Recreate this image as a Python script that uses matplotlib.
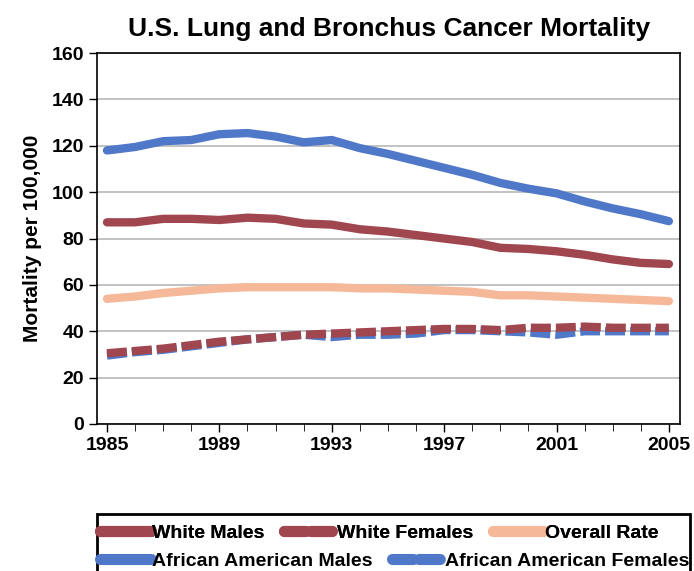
import numpy as np
import matplotlib.pyplot as plt
from matplotlib.lines import Line2D
from matplotlib.patches import Rectangle

plt.rcParams['font.family'] = ['Liberation Sans Narrow', 'Liberation Sans', 'DejaVu Sans']

years = np.arange(1985, 2006)

aa_males = [118, 119.5, 122, 122.5, 125, 125.5, 124, 121.5, 122.5, 119, 116.5,
            113.5, 110.5, 107.5, 104, 101.5, 99.5, 96, 93, 90.5, 87.5]
white_males = [87, 87, 88.5, 88.5, 88, 89, 88.5, 86.5, 86, 84, 83,
               81.5, 80, 78.5, 76, 75.5, 74.5, 73, 71, 69.5, 69]
overall = [54, 55, 56.5, 57.5, 58.5, 59, 59, 59, 59, 58.5, 58.5,
           58, 57.5, 57, 55.5, 55.5, 55, 54.5, 54, 53.5, 53]
white_females = [30.5, 31.5, 32.5, 34, 35.5, 36.5, 37.5, 38.5, 39, 39.5, 40,
                 40.5, 41, 41, 40.5, 41.5, 41.5, 42, 41.5, 41.5, 41.5]
aa_females = [29.5, 31, 32, 33.5, 35, 36.5, 37.5, 38.5, 37.5, 38.5, 38.5,
              39, 40.5, 40.5, 40, 39.5, 38.5, 40, 40, 40, 40]

blue = '#5078c8'
maroon = '#a0464e'
peach = '#f5b898'

fig = plt.figure(figsize=(6.94, 5.71), dpi=100)
ax = fig.add_axes([0.140, 0.2575, 0.840, 0.6495])

lw = 6
dash = (2.4, 0.6)
ax.plot(years, aa_females, color=blue, lw=lw, dashes=dash, dash_capstyle='butt', zorder=3)
ax.plot(years, white_females, color=maroon, lw=lw, dashes=dash, dash_capstyle='butt', zorder=4)
ax.plot(years, overall, color=peach, lw=lw, solid_capstyle='round', zorder=3)
ax.plot(years, white_males, color=maroon, lw=lw, solid_capstyle='round', zorder=3)
ax.plot(years, aa_males, color=blue, lw=lw, solid_capstyle='round', zorder=3)

ax.set_xlim(1984.65, 2005.4)
ax.set_ylim(0, 160)
ax.set_yticks(np.arange(0, 161, 20))
ax.set_xticks([1985, 1989, 1993, 1997, 2001, 2005])
ax.set_xticks(years, minor=True)
ax.tick_params(axis='both', labelsize=14, direction='out', length=6, width=1)
ax.tick_params(axis='x', which='minor', length=5)
for lab in ax.get_xticklabels() + ax.get_yticklabels():
    lab.set_fontweight('bold')
ax.grid(axis='y', color='#b8b8b8', lw=1.2)
ax.set_axisbelow(True)
for s in ax.spines.values():
    s.set_linewidth(1.2)
ax.set_ylabel('Mortality per 100,000', fontsize=15, fontweight='bold',
              family=['Liberation Sans', 'DejaVu Sans'], labelpad=7)
ax.set_title('U.S. Lung and Bronchus Cancer Mortality', fontsize=19,
             fontweight='bold', pad=12)

# legend box
fig.patches.append(Rectangle((97 / 694, -0.01), 593 / 694, 0.11, transform=fig.transFigure,
                             fill=False, lw=2, edgecolor='black'))

def handle(c, dashed):
    if dashed:
        return Line2D([], [], color=c, lw=8, dashes=(1.9, 0.5), dash_capstyle='round')
    return Line2D([], [], color=c, lw=8, solid_capstyle='round')

row1 = [handle(maroon, False), handle(maroon, True), handle(peach, False)]
row2 = [handle(blue, False), handle(blue, True)]
leg_kw = dict(frameon=False, handlelength=2.6, handletextpad=0.1, columnspacing=1.0,
              prop={'size': 14, 'weight': 'bold'}, borderaxespad=0, borderpad=0)
leg1 = fig.legend(row1, ['White Males', 'White Females', 'Overall Rate'], ncol=3,
                  loc='center left', bbox_to_anchor=(100 / 694, 1 - 533 / 571), **leg_kw)
fig.add_artist(leg1)
fig.legend(row2, ['African American Males', 'African American Females'], ncol=2,
           loc='center left', bbox_to_anchor=(100 / 694, 1 - 561 / 571), **leg_kw)

fig.savefig('out.png', dpi=100)
